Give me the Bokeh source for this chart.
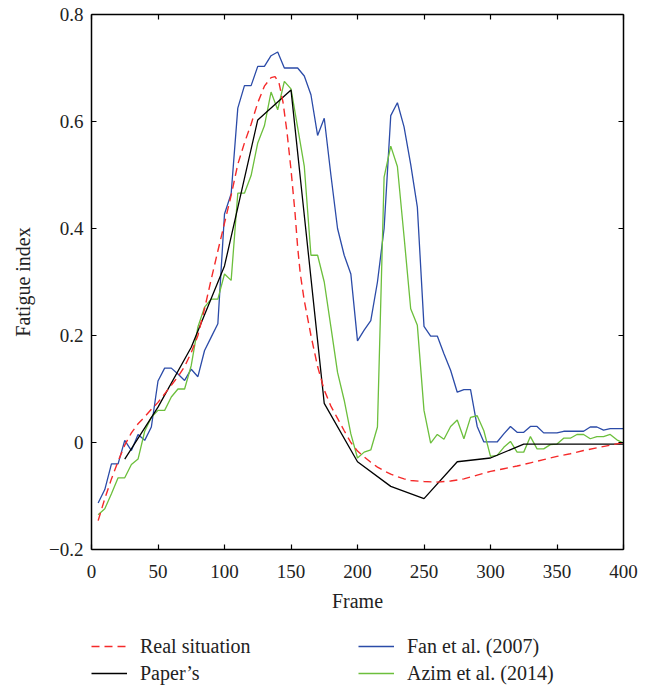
from bokeh.plotting import figure
from bokeh.layouts import column
from bokeh.models import Range1d, LinearAxis, Legend, LegendItem, FixedTicker
from bokeh.embed import file_html
from bokeh.resources import INLINE

# ---------------- data ----------------
frames = [5, 10, 15, 20, 25, 30, 35, 40, 45, 50, 55, 60, 65, 70, 75, 80, 85, 90, 95, 100,
          105, 110, 115, 120, 125, 130, 135, 140, 145, 150, 155, 160, 165, 170, 175, 180, 185, 190, 195, 200,
          205, 210, 215, 220, 225, 230, 235, 240, 245, 250, 255, 260, 265, 270, 275, 280, 285, 290, 295, 300,
          305, 310, 315, 320, 325, 330, 335, 340, 345, 350, 355, 360, 365, 370, 375, 380, 385, 390, 395, 400]

fan_2007 = [-0.113, -0.088, -0.040, -0.040, 0.004, -0.015, 0.015, 0.004, 0.029, 0.115,
            0.139, 0.139, 0.128, 0.116, 0.137, 0.123, 0.172, 0.197, 0.222, 0.427,
            0.465, 0.625, 0.667, 0.667, 0.703, 0.703, 0.723, 0.730, 0.700, 0.700,
            0.700, 0.685, 0.650, 0.574, 0.606, 0.500, 0.400, 0.350, 0.315, 0.190,
            0.210, 0.228, 0.300, 0.400, 0.611, 0.635, 0.590, 0.520, 0.440, 0.217,
            0.199, 0.199, 0.166, 0.135, 0.094, 0.099, 0.099, 0.030, 0.001, 0.001,
            0.001, 0.016, 0.030, 0.019, 0.019, 0.030, 0.030, 0.018, 0.018, 0.018,
            0.021, 0.021, 0.021, 0.021, 0.029, 0.029, 0.023, 0.026, 0.026, 0.026]

azim_2014 = [-0.135, -0.124, -0.096, -0.066, -0.066, -0.041, -0.031, 0.021, 0.047, 0.060,
             0.060, 0.085, 0.100, 0.100, 0.144, 0.216, 0.253, 0.268, 0.268, 0.315,
             0.303, 0.466, 0.466, 0.499, 0.560, 0.592, 0.655, 0.622, 0.675, 0.661,
             0.589, 0.516, 0.350, 0.350, 0.300, 0.216, 0.131, 0.079, 0.016, -0.029,
             -0.018, -0.014, 0.029, 0.496, 0.554, 0.516, 0.385, 0.250, 0.219, 0.060,
             -0.001, 0.015, 0.006, 0.030, 0.042, 0.007, 0.047, 0.050, 0.022, -0.026,
             -0.024, -0.009, 0.002, -0.018, -0.018, 0.011, -0.012, -0.012, -0.004, -0.003,
             0.008, 0.008, 0.015, 0.015, 0.007, 0.011, 0.011, 0.015, 0.005, -0.001]

papers_frames = [25, 50, 75, 100, 125, 150, 175, 200, 225, 250, 275, 300, 325, 400]
papers_values = [-0.031, 0.066, 0.178, 0.330, 0.603, 0.659, 0.073, -0.036, -0.082, -0.105,
                 -0.036, -0.029, -0.003, -0.003]

real_frames = [5, 10, 15, 20, 25, 30, 35, 40, 45, 50, 55, 60, 65, 70, 75, 80, 85, 90, 95, 100,
               105, 110, 115, 120, 125, 130, 135, 138, 141, 144, 147, 150, 153, 155, 157, 160,
               165, 170, 175, 180, 185, 190, 195, 200, 205, 210, 215, 220, 225, 230, 235, 240,
               250, 260, 270, 280, 290, 300, 310, 320, 330, 340, 350, 360, 370, 380, 390, 400]
real_values = [-0.146, -0.105, -0.068, -0.035, -0.005, 0.018, 0.035, 0.048, 0.062, 0.075,
               0.091, 0.107, 0.123, 0.142, 0.168, 0.200, 0.250, 0.305, 0.358, 0.410,
               0.462, 0.520, 0.560, 0.595, 0.635, 0.666, 0.682, 0.684, 0.672, 0.636,
               0.580, 0.510, 0.430, 0.365, 0.315, 0.265,
               0.200, 0.142, 0.098, 0.068, 0.045, 0.022, 0.000, -0.016, -0.027, -0.037,
               -0.046, -0.053, -0.059, -0.064, -0.068, -0.071,
               -0.073, -0.074, -0.072, -0.068, -0.061, -0.054, -0.049, -0.044, -0.038, -0.032,
               -0.026, -0.021, -0.015, -0.010, -0.005, 0.000]

x_ticks = [0, 50, 100, 150, 200, 250, 300, 350, 400]
y_ticks = [-0.2, 0.0, 0.2, 0.4, 0.6, 0.8]
y_tick_labels = ["\u22120.2", "0", "0.2", "0.4", "0.6", "0.8"]

labels = ["Real situation", "Paper\u2019s", "Fan et al. (2007)", "Azim et al. (2014)"]
colors = ["#f52a2a", "#000000", "#2b4ba8", "#6cbf3c"]
dashes = ["8 5", "solid", "solid", "solid"]
series = [(real_frames, real_values), (papers_frames, papers_values),
          (frames, fan_2007), (frames, azim_2014)]

FONT = "Liberation Serif"

# ---------------- main figure ----------------
p = figure(width=645, height=620, output_backend="svg", toolbar_location=None,
           x_range=Range1d(0, 400), y_range=Range1d(-0.2, 0.8),
           min_border_left=91, min_border_right=22, min_border_top=14, min_border_bottom=71)
p.grid.visible = False
p.outline_line_color = None
p.background_fill_color = "white"
p.border_fill_color = "white"

p.add_layout(LinearAxis(), "above")
p.add_layout(LinearAxis(), "right")

for ax in p.xaxis:
    ax.ticker = FixedTicker(ticks=x_ticks)
for ax in p.yaxis:
    ax.ticker = FixedTicker(ticks=y_ticks)
    ax.major_label_overrides = {t: l for t, l in zip(y_ticks, y_tick_labels)}

for ax in p.axis:
    ax.major_tick_in = 5
    ax.major_tick_out = 0
    ax.minor_tick_line_color = None
    ax.axis_line_width = 1.5
    ax.axis_line_color = "black"
    ax.major_tick_line_width = 1.2
    ax.major_tick_line_color = "black"
    ax.major_label_text_font = FONT
    ax.major_label_text_font_size = "19px"
    ax.major_label_text_color = "#222222"
    ax.axis_label_text_font = FONT
    ax.axis_label_text_font_size = "20px"
    ax.axis_label_text_font_style = "normal"
    ax.axis_label_text_color = "#222222"

for ax in (p.above[0], p.right[0]):
    ax.major_label_text_color = None
    ax.major_label_text_font_size = "1px"
    ax.major_label_standoff = 0

p.below[0].axis_label = "Frame"
p.below[0].major_label_standoff = 15
p.below[0].axis_label_standoff = 9
p.left[0].axis_label = "Fatigue index"
p.left[0].major_label_standoff = 8
p.left[0].axis_label_standoff = 12

p.line(frames, fan_2007, line_color=colors[2], line_width=1.3)
p.line(frames, azim_2014, line_color=colors[3], line_width=1.3)
p.line(papers_frames, papers_values, line_color=colors[1], line_width=1.3)
p.line(real_frames, real_values, line_color=colors[0], line_width=1.4, line_dash=dashes[0])

# ---------------- legend strip (series kept outside its visible range) ----------------
q = figure(width=645, height=66, output_backend="svg", toolbar_location=None,
           x_axis_location=None, y_axis_location=None,
           x_range=Range1d(1000, 1001), y_range=Range1d(1000, 1001),
           min_border_left=0, min_border_right=0, min_border_top=0, min_border_bottom=0)
q.grid.visible = False
q.outline_line_color = None
q.background_fill_color = "white"
q.border_fill_color = "white"

items = []
for lab, col, dash, (xs, ys) in zip(labels, colors, dashes, series):
    r = q.line(xs, ys, line_color=col, line_width=1.4, line_dash=dash)
    items.append(LegendItem(label=lab, renderers=[r]))

legend = Legend(
    items=items, location=(0, 1), orientation="vertical", ncols=2,
    glyph_width=36, glyph_height=20, label_standoff=13, spacing=3,
    padding=0, margin=0, border_line_alpha=0, background_fill_alpha=0,
    label_text_font=FONT, label_text_font_size="20px", label_text_color="#222222",
    label_width=215, label_height=24)
q.add_layout(legend, "center")

layout = column(p, q, spacing=0)
open("out.html", "w").write(file_html(layout, INLINE))
